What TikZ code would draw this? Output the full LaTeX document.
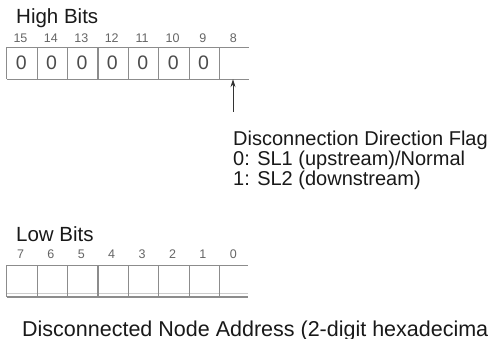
\documentclass[tikz,border=0pt]{standalone}
\usepackage{fontspec}
\setmainfont{Liberation Sans}
\usetikzlibrary{arrows.meta}
\begin{document}
\begin{tikzpicture}[x=1pt,y=-1pt,
  boxline/.style={draw=black!45,line width=1.1pt},
  faintline/.style={draw=black!20,line width=0.8pt},
  cell/.style={minimum width=30.4pt,minimum height=31.5pt,inner sep=0,draw=none},
  bitnum/.style={text=black!60,font=\fontsize{12.5}{12.5}\selectfont,anchor=base,inner sep=0},
  zero/.style={text=black!70,font=\fontsize{19.5}{19.5}\selectfont,inner sep=0},
  title/.style={text=black!90,font=\fontsize{20.5}{20}\selectfont,anchor=base west,inner sep=0},
  body/.style={text=black!90,font=\fontsize{20}{17.3}\selectfont,align=left,anchor=base west,inner sep=0},
  pointer/.style={draw=black!80,line width=0.9pt,-{Stealth[length=8pt,width=5pt]}}]
\useasboundingbox (0,0) rectangle (494,339);
\fill[white] (0,0) rectangle (494,339);

% High bits
\node[title] (hightitle) at (16,23.3) {High Bits};
\foreach \n [count=\i from 0] in {15,14,...,8} {
  \node[cell] (h\n) at ({22.2+30.4*\i},63.25) {};
  \node[bitnum] (hn\n) at ({20.5+30.4*\i},43) {\n};
}
\foreach \n in {15,14,...,9} {
  \node[zero] (z\n) at ([xshift=-1pt]h\n.center) {0};
}
\draw[boxline] (h15.north west) -- ([xshift=14pt]h8.north);
\draw[boxline] (h15.south west) -- ([xshift=14pt]h8.south);
\foreach \n in {15,14,...,8} {
  \draw[boxline] (h\n.north west) -- (h\n.south west);
}

% arrow
\coordinate (tail) at (233,112);
\draw[pointer] (tail) -- (tail |- h8.south);

% flag text (anchor at the baseline of the last line)
\node[body] (flag) at (233,185.2) {Disconnection Direction Flag\\0: SL1 (upstream)/Normal\\1: SL2 (downstream)};

% Low bits
\node[title] (lowtitle) at (16,241) {Low Bits};
\foreach \n [count=\i from 0] in {7,6,...,0} {
  \node[cell] (l\n) at ({22.2+30.4*\i},281) {};
  \node[bitnum] (ln\n) at ({20.5+30.4*\i},258) {\n};
}
\draw[boxline] (l7.north west) -- ([xshift=13pt]l0.north);
\draw[boxline] (l7.south west) -- ([xshift=13pt]l0.south);
\draw[faintline] ([yshift=4pt]l7.south west) -- ([xshift=13pt,yshift=4pt]l0.south);
\foreach \n in {7,6,...,0} {
  \draw[boxline] (l\n.north west) -- (l\n.south west);
}

% bottom text
\node[title,font=\fontsize{21.5}{21.5}\selectfont] (addr) at (22,336) {Disconnected Node Address (2-digit hexadecima};
\end{tikzpicture}
\end{document}
